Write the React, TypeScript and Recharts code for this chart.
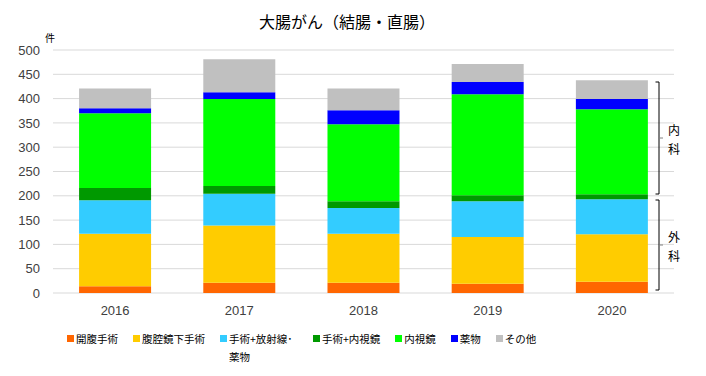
import React from 'react';
import { BarChart, Bar, XAxis, YAxis, CartesianGrid, Legend } from 'recharts';

// 年別の件数
const years = ['2016', '2017', '2018', '2019', '2020'];
const kaifuku = [14, 21, 21, 19, 23];
const fukukukyo = [108, 118, 101, 96, 98];
const shujutsuHoshasen = [69, 65, 53, 74, 72];
const shujutsuNaishikyo = [25, 16, 14, 12, 10];
const naishikyo = [154, 179, 158, 208, 175];
const yakubutsu = [10, 14, 29, 25, 21];
const sonota = [41, 68, 45, 37, 39];
const yTicks = [0, 50, 100, 150, 200, 250, 300, 350, 400, 450, 500];

const series = [
  { key: 'kaifuku', name: '開腹手術', color: '#FF6600', values: kaifuku },
  { key: 'fukukukyo', name: '腹腔鏡下手術', color: '#FFCC00', values: fukukukyo },
  { key: 'shujutsuHoshasen', name: '手術+放射線･薬物', color: '#33CCFF', values: shujutsuHoshasen },
  { key: 'shujutsuNaishikyo', name: '手術+内視鏡', color: '#009900', values: shujutsuNaishikyo },
  { key: 'naishikyo', name: '内視鏡', color: '#00FF00', values: naishikyo },
  { key: 'yakubutsu', name: '薬物', color: '#0000FF', values: yakubutsu },
  { key: 'sonota', name: 'その他', color: '#C0C0C0', values: sonota },
];

const data = years.map((year, i) => {
  const row: Record<string, string | number> = { year };
  series.forEach(s => {
    row[s.key] = s.values[i];
  });
  return row;
});

const cjk = '"Noto Sans CJK JP", "Noto Sans", sans-serif';
const tickFont = { fontFamily: '"Liberation Sans", Arial, sans-serif', fontSize: 13, fill: '#404040' };

const LegendContent = () => (
  <div style={{ display: 'flex', alignItems: 'flex-start', fontFamily: cjk, fontSize: 10.5, lineHeight: '18px', color: '#000' }}>
    {series.map(s => (
      <div key={s.key} style={{ display: 'flex', alignItems: 'flex-start', marginRight: 15 }}>
        <span style={{ width: 7, height: 7, background: s.color, marginTop: 5, marginRight: 2, flexShrink: 0 }} />
        <span style={{ width: s.key === 'shujutsuHoshasen' ? 69 : undefined, whiteSpace: s.key === 'shujutsuHoshasen' ? 'normal' : 'nowrap' }}>
          {s.name}
        </span>
      </div>
    ))}
  </div>
);

// 右側の「内科」「外科」かっこ
const Bracket = ({ top, bottom, label }: { top: number; bottom: number; label: string }) => {
  const mid = (top + bottom) / 2;
  return (
    <g>
      <path d={`M655.5 ${top} H659 V${bottom} H655.5`} fill="none" stroke="#000" strokeWidth={1} />
      <line x1={659} y1={mid} x2={663} y2={mid} stroke="#808080" strokeWidth={1} />
      <text x={674} y={mid - 9} textAnchor="middle" dominantBaseline="central" fontFamily={cjk} fontSize={12}>
        {label[0]}
      </text>
      <text x={674} y={mid + 10} textAnchor="middle" dominantBaseline="central" fontFamily={cjk} fontSize={12}>
        {label[1]}
      </text>
    </g>
  );
};

const App: React.FC = () => {
  return (
    <div style={{ position: 'absolute', left: 0, top: 0, width: 706, height: 376, background: '#fff' }}>
      <BarChart
        width={706}
        height={376}
        data={data}
        margin={{ top: 50, right: 32, left: 0, bottom: 10 }}
        barCategoryGap="21%"
      >
        <CartesianGrid vertical={false} stroke="#D9D9D9" />
        <XAxis dataKey="year" axisLine={false} tickLine={false} height={37} tickMargin={7} tick={tickFont} />
        <YAxis
          domain={[0, 500]}
          ticks={yTicks}
          axisLine={false}
          tickLine={false}
          width={53}
          tickMargin={7}
          tick={tickFont}
          interval={0}
        />
        <Legend
          verticalAlign="bottom"
          content={<LegendContent />}
          wrapperStyle={{ left: 67, width: 600 }}
        />
        {series.map(s => (
          <Bar key={s.key} dataKey={s.key} name={s.name} stackId="a" fill={s.color} isAnimationActive={false} />
        ))}
      </BarChart>
      <svg width={706} height={376} style={{ position: 'absolute', left: 0, top: 0, pointerEvents: 'none' }}>
        <text x={347} y={21} textAnchor="middle" dominantBaseline="central" fontFamily={cjk} fontSize={16}>
          大腸がん（結腸・直腸）
        </text>
        <text x={50} y={37} textAnchor="middle" dominantBaseline="central" fontFamily={cjk} fontSize={10}>
          件
        </text>
        <Bracket top={82} bottom={194} label="内科" />
        <Bracket top={200} bottom={290} label="外科" />
      </svg>
    </div>
  );
};

export default App;
